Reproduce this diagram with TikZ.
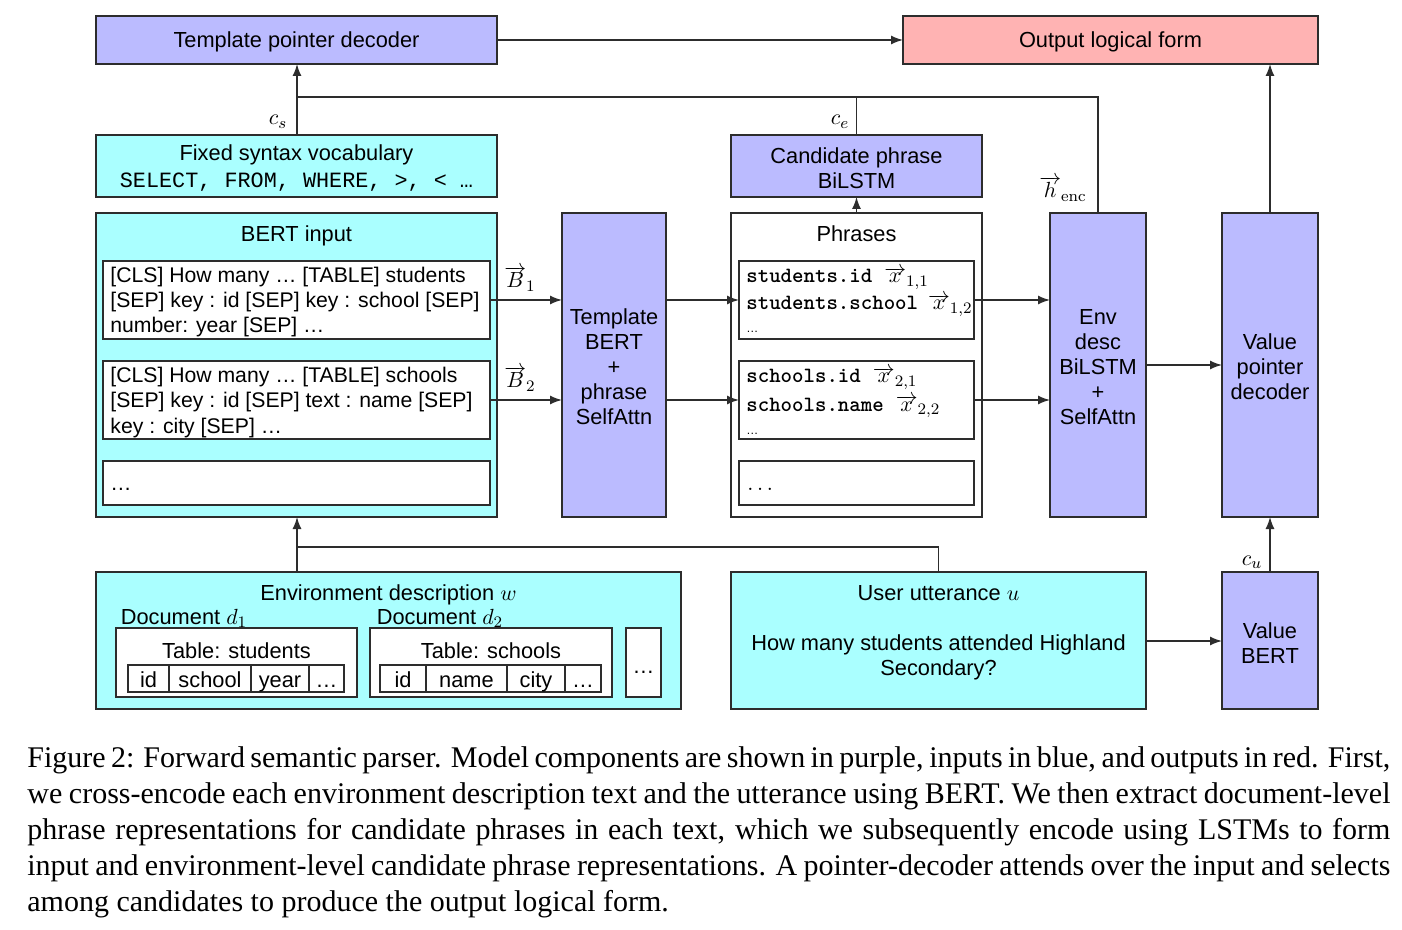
\documentclass[tikz,border=0pt]{standalone}
\usepackage[no-math]{fontspec}
\setmainfont{Liberation Sans}
\newfontfamily\capfont{Liberation Serif}
\newfontfamily\courfont{Liberation Mono}
\usetikzlibrary{arrows.meta}
\definecolor{purp}{RGB}{187,187,255}
\definecolor{cyanin}{RGB}{170,255,255}
\definecolor{redout}{RGB}{255,179,179}
\definecolor{edge}{RGB}{45,45,45}
\newcommand{\nf}{\fontsize{10.9}{12.5}\selectfont}
\begin{document}
\begin{tikzpicture}[x=0.5pt,y=-0.5pt,
  box/.style={draw=edge, line width=0.8pt, inner sep=0pt, outer sep=0pt, font=\nf, align=center},
  pbox/.style={box, fill=purp},
  cbox/.style={box, fill=cyanin},
  rbox/.style={box, fill=redout},
  wbox/.style={box, fill=white},
  sl/.style={text height=9pt, text depth=1pt},
  cell/.style={box, fill=white, minimum height=13.5pt, text height=9pt, text depth=0.5pt},
  lbl/.style={inner sep=0pt, font=\nf},
  bl/.style={inner sep=0pt, font=\fontsize{10.6}{12.5}\selectfont, anchor=base west},
  ph/.style={inner sep=0pt, font=\nf, anchor=base west},
  arr/.style={-{Latex[length=6pt,width=4.5pt]}, line width=0.7pt, draw=edge},
  ln/.style={line width=0.7pt, draw=edge},
  captxt/.style={inner sep=0pt, anchor=base west, font=\capfont\fontsize{15}{18}\selectfont},
]
\useasboundingbox (0,0) rectangle (1402,930);

% ---- top row
\node[pbox, sl, minimum width=200.5pt, minimum height=24pt] (tpd) at (296.5,40) {Template pointer decoder};
\node[rbox, sl, minimum width=207.5pt, minimum height=24pt] (olf) at (1110.5,40) {Output logical form};
\node[cbox, minimum width=200.5pt, minimum height=31pt] (fsv) at (296.5,166) {};
\node[lbl, align=center] (fsvt) at (296.5,168.5)
  {Fixed syntax vocabulary\\[1pt]{\courfont SELECT, FROM, WHERE, >, < \ldots}};
\node[pbox, minimum width=125.5pt, minimum height=31pt] (cpb) at (856.5,166) {};
\node[lbl, align=center] (cpbt) at (856.5,168) {Candidate phrase\\BiLSTM};

% ---- middle row
\node[cbox, minimum width=200.5pt, minimum height=152pt] (bert) at (296.5,365) {};
\node[lbl, sl] (bertt) at (296.5,234) {BERT input};
\node[wbox, minimum width=193.5pt, minimum height=39pt] (bi1) at (296.5,300) {};
\node[wbox, minimum width=193.5pt, minimum height=39pt] (bi2) at (296.5,400) {};
\node[wbox, minimum width=193.5pt, minimum height=22pt] (bi3) at (296.5,483) {};
\node[bl] (b1a) at (110,283) {[CLS] How many \ldots\ [TABLE] students};
\node[bl] (b1b) at (110,308) {[SEP] key : id [SEP] key : school [SEP]};
\node[bl] (b1c) at (110,333) {number: year [SEP] \ldots};
\node[bl] (b2a) at (110,383) {[CLS] How many \ldots\ [TABLE] schools};
\node[bl] (b2b) at (110,408) {[SEP] key : id [SEP] text : name [SEP]};
\node[bl] (b2c) at (110,433) {key : city [SEP] \ldots};
\node[bl] (b3a) at (110,490) {\ldots};

\node[pbox, minimum width=52pt, minimum height=152pt] (tb) at (614,365) {};
\node[lbl, align=center] (tbt) at (614,367) {Template\\BERT\\+\\phrase\\SelfAttn};

\node[wbox, minimum width=125.5pt, minimum height=152pt] (phr) at (856.5,365) {};
\node[lbl, sl] (phrt) at (856.5,234) {Phrases};
\node[wbox, minimum width=117.5pt, minimum height=39pt] (p1) at (856.5,300) {};
\node[wbox, minimum width=117.5pt, minimum height=39pt] (p2) at (856.5,400) {};
\node[wbox, minimum width=117.5pt, minimum height=22pt] (p3) at (856.5,483) {};
\node[ph] (p1a) at (746,283) {{\ttfamily\bfseries students.id}\hspace{6pt}$\overrightarrow{x}_{1,1}$};
\node[ph] (p1b) at (746,310) {{\ttfamily\bfseries students.school}\hspace{5pt}$\overrightarrow{x}_{1,2}$};
\node[ph, font=\fontsize{6}{7}\selectfont] (p1c) at (746,333) {\ldots};
\node[ph] (p2a) at (746,383) {{\ttfamily\bfseries schools.id}\hspace{6pt}$\overrightarrow{x}_{2,1}$};
\node[ph] (p2b) at (746,411) {{\ttfamily\bfseries schools.name}\hspace{6pt}$\overrightarrow{x}_{2,2}$};
\node[ph, font=\fontsize{6}{7}\selectfont] (p2c) at (746,434) {\ldots};
\node[ph] (p3a) at (747,490) {$\ldots$};

\node[pbox, minimum width=48pt, minimum height=152pt] (env) at (1098,365) {};
\node[lbl, align=center] (envt) at (1098,367) {Env\\desc\\BiLSTM\\+\\SelfAttn};
\node[pbox, minimum width=48pt, minimum height=152pt] (vpd) at (1270,365) {};
\node[lbl, align=center] (vpdt) at (1270,367) {Value\\pointer\\decoder};

% ---- bottom row
\node[cbox, minimum width=292.5pt, minimum height=68.5pt] (ed) at (388.5,640.5) {};
\node[lbl, sl] (edt) at (388.5,592) {Environment description $w$};
\node[lbl, sl] (d1) at (184,616) {Document $d_1$};
\node[lbl, sl] (d2) at (440,616) {Document $d_2$};
\node[wbox, minimum width=120.5pt, minimum height=34.5pt] (t1) at (236.5,662.5) {};
\node[lbl, sl] (t1l) at (236.5,650) {Table: students};
\node[cell, minimum width=20.5pt] (c11) at (148.5,678.5) {id};
\node[cell, minimum width=41pt] (c12) at (210,678.5) {school};
\node[cell, minimum width=29pt] (c13) at (280,678.5) {year};
\node[cell, minimum width=17.5pt] (c14) at (326.5,678.5) {\ldots};
\node[wbox, minimum width=121pt, minimum height=34.5pt] (t2) at (491,662.5) {};
\node[lbl, sl] (t2l) at (491,650) {Table: schools};
\node[cell, minimum width=23pt] (c21) at (403,678.5) {id};
\node[cell, minimum width=40.5pt] (c22) at (466.5,678.5) {name};
\node[cell, minimum width=29pt] (c23) at (536,678.5) {city};
\node[cell, minimum width=18pt] (c24) at (583,678.5) {\ldots};
\node[wbox, minimum width=17.5pt, minimum height=34.5pt] (t3) at (643.5,662.5) {};
\node[lbl] (t3l) at (643.5,672) {\ldots};

\node[cbox, minimum width=207.5pt, minimum height=68.5pt] (usr) at (938.5,640.5) {};
\node[lbl, sl] (usrt) at (938.5,592) {User utterance $u$};
\node[lbl, align=center] (usrb) at (938.5,657) {How many students attended Highland\\Secondary?};
\node[pbox, minimum width=48pt, minimum height=68.5pt] (vb) at (1270,640.5) {};
\node[lbl, align=center] (vbt) at (1270,643) {Value\\BERT};

% ---- connectors
\coordinate (j1) at (297,97);
\coordinate (j3) at (297,547);
\draw[arr] (tpd) -- (olf);
\draw[arr] (fsv.north -| j1) -- (tpd.south -| j1);
\draw[ln] (env.north) |- (j1);
\draw[ln] (cpb.north) -- (cpb.north |- j1);
\draw[arr] (phr.north) -- (cpb.south);
\draw[arr] (vpd.north) -- (vpd.north |- olf.south);
\draw[arr] (bi1.east) -- (bi1.east -| tb.west);
\draw[arr] (bi2.east) -- (bi2.east -| tb.west);
\draw[arr] (tb.east |- bi1.east) -- (p1.west);
\draw[arr] (tb.east |- bi2.east) -- (p2.west);
\draw[arr] (p1.east) -- (p1.east -| env.west);
\draw[arr] (p2.east) -- (p2.east -| env.west);
\draw[arr] (env.east) -- (vpd.west);
\draw[arr] (ed.north -| j3) -- (bert.south -| j3);
\draw[ln] (usr.north) |- (j3);
\draw[arr] (usr.east |- 0,641) -- (vb.west |- 0,641);
\draw[arr] (vb.north) -- (vpd.south);

% ---- labels
\node[lbl, sl] (lcs) at (278,117) {$c_s$};
\node[lbl, sl] (lce) at (840,117) {$c_e$};
\node[lbl] (lhe) at (1063,189) {$\overrightarrow{h}_{\mathrm{enc}}$};
\node[lbl, sl] (lcu) at (1252,557) {$c_u$};
\node[lbl] (lb1) at (520,279) {$\overrightarrow{B}_1$};
\node[lbl] (lb2) at (520,379) {$\overrightarrow{B}_2$};

% ---- caption
\node[captxt] (cap1) at (27,767) {\makebox[681.5pt][s]{Figure 2: Forward semantic parser. Model components are shown in purple, inputs in blue, and outputs in red. First,}};
\node[captxt] (cap2) at (27,803) {\makebox[681.5pt][s]{we cross-encode each environment description text and the utterance using BERT. We then extract document-level}};
\node[captxt] (cap3) at (27,839) {\makebox[681.5pt][s]{phrase representations for candidate phrases in each text, which we subsequently encode using LSTMs to form}};
\node[captxt] (cap4) at (27,875) {\makebox[681.5pt][s]{input and environment-level candidate phrase representations. A pointer-decoder attends over the input and selects}};
\node[captxt] (cap5) at (27,911) {among candidates to produce the output logical form.};
\end{tikzpicture}
\end{document}
